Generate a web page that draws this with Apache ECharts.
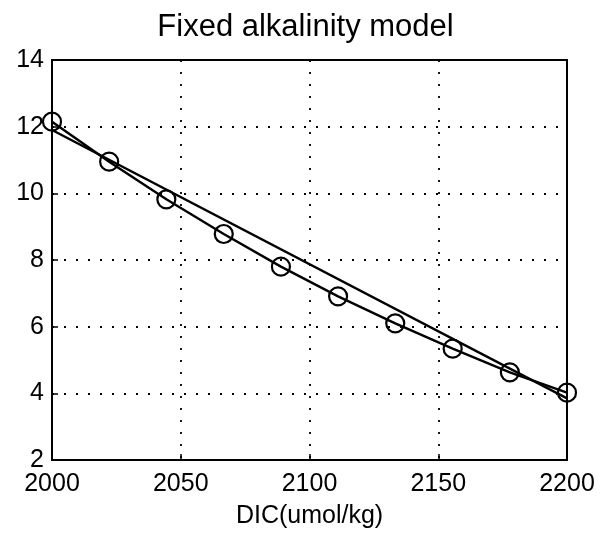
<!DOCTYPE html>
<html>
<head>
<meta charset="utf-8">
<script src="https://cdn.jsdelivr.net/npm/echarts@6/dist/echarts.min.js"></script>
<style>
  html, body { margin: 0; padding: 0; background: #fff; }
  #chart { width: 611px; height: 536px; }
</style>
</head>
<body>
<div id="chart"></div>
<script>
// DIC values of the model runs
var dic = [2000, 2022.2, 2044.4, 2066.7, 2088.9, 2111.1, 2133.3, 2155.6, 2177.8, 2200];
// model output (circles)
var modelVals = [12.15, 10.95, 9.82, 8.78, 7.8, 6.91, 6.1, 5.34, 4.63, 4.02];
// straight fit line end points
var fitX = [2000, 2200];
var fitVals = [11.9, 3.85];

var font = 'Liberation Sans, Arial, Helvetica, sans-serif';
var chart = echarts.init(document.getElementById('chart'));

chart.setOption({
  animation: false,
  title: {
    text: 'Fixed alkalinity model',
    left: 'center',
    top: 7,
    textStyle: { fontFamily: font, fontSize: 31, fontWeight: 'normal', color: '#000' }
  },
  grid: {
    left: 52,
    right: 44,
    top: 60,
    bottom: 76,
    show: true,
    borderColor: '#000',
    borderWidth: 2
  },
  xAxis: {
    type: 'value',
    min: 2000,
    max: 2200,
    interval: 50,
    name: 'DIC(umol/kg)',
    nameLocation: 'middle',
    nameGap: 44,
    nameTextStyle: { fontFamily: font, fontSize: 25, color: '#000' },
    axisLine: { show: true, lineStyle: { color: '#000', width: 2 } },
    axisTick: { show: true, inside: true, length: 6, lineStyle: { color: '#000', width: 1.5 } },
    axisLabel: {
      fontFamily: font, fontSize: 25, color: '#000', margin: 12,
      formatter: function (v) { return String(v); }
    },
    splitLine: { show: true, lineStyle: { color: '#000', width: 1.8, type: [2, 10] } }
  },
  yAxis: {
    type: 'value',
    min: 2,
    max: 14,
    interval: 2,
    axisLine: { show: true, lineStyle: { color: '#000', width: 2 } },
    axisTick: { show: true, inside: true, length: 6, lineStyle: { color: '#000', width: 1.5 } },
    axisLabel: { fontFamily: font, fontSize: 25, color: '#000', margin: 8 },
    splitLine: { show: true, lineStyle: { color: '#000', width: 1.8, type: [2, 10] } }
  },
  series: [{
    name: 'model',
    type: 'line',
    data: dic.map(function (x, i) { return [x, modelVals[i]]; }),
    symbol: 'circle',
    symbolSize: 18,
    itemStyle: { color: 'rgba(0,0,0,0)', borderColor: '#000', borderWidth: 2.2 },
    lineStyle: { color: '#000', width: 2.4 },
    clip: false,
    z: 3
  }, {
    name: 'fit',
    type: 'line',
    data: fitX.map(function (x, i) { return [x, fitVals[i]]; }),
    showSymbol: false,
    symbol: 'none',
    lineStyle: { color: '#000', width: 2.4 },
    z: 2
  }]
});
</script>
</body>
</html>
